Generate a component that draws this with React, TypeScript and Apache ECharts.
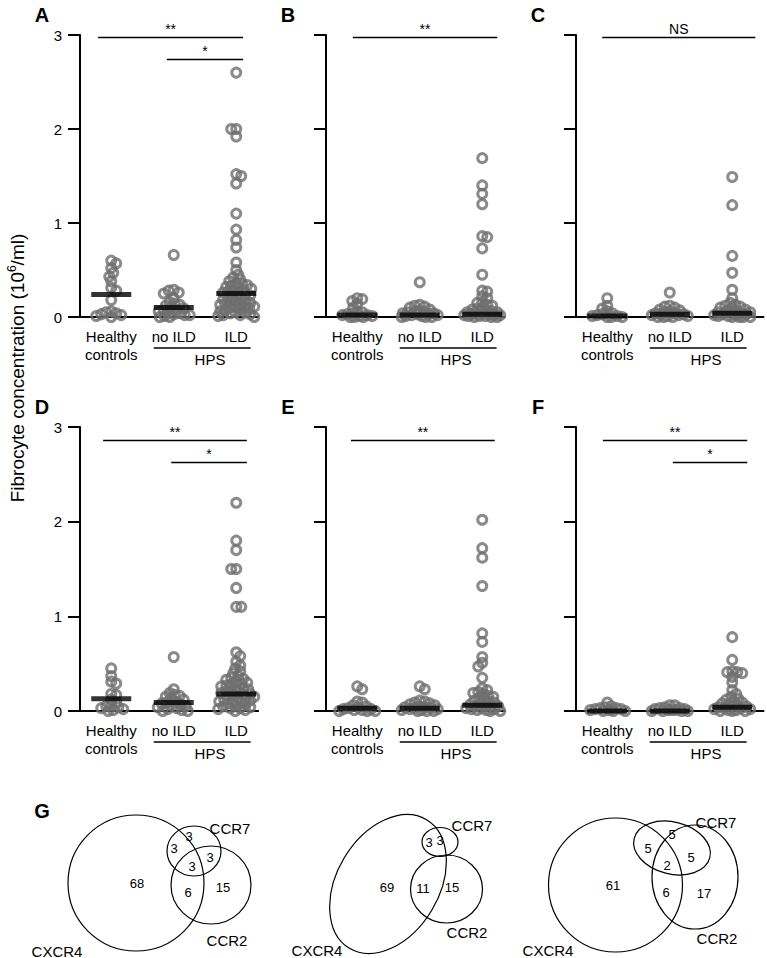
import React, { useEffect, useRef } from 'react';
import * as echarts from 'echarts';

// ---------- data ----------
const groupLabels = ['Healthy\ncontrols', 'no ILD', 'ILD'];
const hpsLabel = 'HPS';
const panelLetters = ['A', 'B', 'C', 'D', 'E', 'F'];
const yAxisTitle = 'Fibrocyte concentration (10{s|6}/ml)';

const aHealthy = [0.60, 0.57, 0.52, 0.47, 0.43, 0.38, 0.31, 0.28, 0.18, 0.06, 0.05, 0.04, 0.03, 0.02, 0.01, 0.0];
const aNoILD = [0.66, 0.29, 0.28, 0.26, 0.25, 0.20, 0.16, 0.14, 0.13, 0.12, 0.10, 0.09, 0.08, 0.07, 0.06, 0.05, 0.04, 0.03, 0.02, 0.02, 0.01, 0.0, 0.0];
const aILD = [2.60, 2.00, 2.00, 1.92, 1.52, 1.50, 1.42, 1.10, 0.93, 0.82, 0.74, 0.58, 0.50, 0.45, 0.42, 0.40, 0.38, 0.36, 0.35, 0.34, 0.33, 0.32, 0.31, 0.30, 0.29, 0.28, 0.27, 0.26, 0.25, 0.24, 0.23, 0.22, 0.21, 0.20, 0.19, 0.18, 0.17, 0.16, 0.15, 0.14, 0.14, 0.13, 0.12, 0.11, 0.11, 0.10, 0.09, 0.08, 0.07, 0.06, 0.05, 0.05, 0.04, 0.03, 0.02, 0.02, 0.01, 0.0];
const aMeans = [0.24, 0.10, 0.25];

const bHealthy = [0.20, 0.19, 0.17, 0.14, 0.10, 0.06, 0.05, 0.04, 0.03, 0.02, 0.02, 0.01, 0.01, 0.0, 0.0, 0.0];
const bNoILD = [0.37, 0.13, 0.12, 0.11, 0.10, 0.08, 0.07, 0.06, 0.05, 0.05, 0.04, 0.04, 0.03, 0.03, 0.02, 0.02, 0.01, 0.01, 0.0, 0.0, 0.0];
const bILD = [1.69, 1.40, 1.31, 1.20, 0.86, 0.85, 0.73, 0.45, 0.28, 0.27, 0.22, 0.20, 0.16, 0.15, 0.13, 0.12, 0.10, 0.09, 0.08, 0.07, 0.06, 0.05, 0.05, 0.04, 0.04, 0.03, 0.03, 0.02, 0.02, 0.02, 0.01, 0.01, 0.01, 0.0, 0.0, 0.0];
const bMeans = [0.02, 0.02, 0.03];

const cHealthy = [0.20, 0.12, 0.09, 0.06, 0.04, 0.03, 0.02, 0.01, 0.01, 0.0, 0.0, 0.0];
const cNoILD = [0.26, 0.12, 0.11, 0.10, 0.08, 0.07, 0.06, 0.05, 0.04, 0.04, 0.03, 0.03, 0.02, 0.02, 0.01, 0.01, 0.0, 0.0, 0.0];
const cILD = [1.49, 1.19, 0.65, 0.47, 0.29, 0.20, 0.15, 0.13, 0.12, 0.11, 0.10, 0.09, 0.08, 0.07, 0.06, 0.05, 0.05, 0.04, 0.04, 0.03, 0.03, 0.02, 0.02, 0.01, 0.01, 0.0, 0.0, 0.0, 0.0];
const cMeans = [0.01, 0.03, 0.04];

const dHealthy = [0.45, 0.37, 0.31, 0.29, 0.18, 0.17, 0.12, 0.09, 0.06, 0.05, 0.04, 0.03, 0.02, 0.01, 0.0];
const dNoILD = [0.57, 0.23, 0.19, 0.17, 0.16, 0.15, 0.13, 0.12, 0.10, 0.09, 0.08, 0.07, 0.06, 0.05, 0.04, 0.03, 0.02, 0.01, 0.0, 0.0];
const dILD = [2.20, 1.80, 1.70, 1.50, 1.50, 1.30, 1.10, 1.10, 0.62, 0.58, 0.52, 0.48, 0.45, 0.42, 0.40, 0.37, 0.35, 0.34, 0.33, 0.31, 0.30, 0.29, 0.28, 0.27, 0.26, 0.25, 0.24, 0.23, 0.22, 0.21, 0.20, 0.19, 0.18, 0.18, 0.17, 0.16, 0.15, 0.14, 0.13, 0.12, 0.11, 0.11, 0.10, 0.09, 0.08, 0.07, 0.06, 0.05, 0.04, 0.03, 0.03, 0.02, 0.01, 0.0];
const dMeans = [0.13, 0.09, 0.18];

const eHealthy = [0.26, 0.23, 0.10, 0.09, 0.06, 0.05, 0.04, 0.03, 0.02, 0.02, 0.01, 0.01, 0.0, 0.0, 0.0];
const eNoILD = [0.26, 0.23, 0.11, 0.10, 0.09, 0.08, 0.07, 0.06, 0.05, 0.04, 0.04, 0.03, 0.03, 0.02, 0.02, 0.01, 0.01, 0.0, 0.0, 0.0];
const eILD = [2.02, 1.72, 1.62, 1.32, 0.82, 0.73, 0.57, 0.51, 0.47, 0.35, 0.24, 0.22, 0.20, 0.19, 0.18, 0.16, 0.15, 0.14, 0.12, 0.11, 0.10, 0.09, 0.08, 0.07, 0.06, 0.05, 0.05, 0.04, 0.03, 0.03, 0.02, 0.02, 0.01, 0.01, 0.0, 0.0];
const eMeans = [0.03, 0.03, 0.06];

const fHealthy = [0.09, 0.05, 0.04, 0.03, 0.03, 0.02, 0.02, 0.01, 0.01, 0.0, 0.0, 0.0];
const fNoILD = [0.06, 0.06, 0.04, 0.03, 0.03, 0.02, 0.02, 0.01, 0.01, 0.01, 0.0, 0.0, 0.0, 0.0];
const fILD = [0.78, 0.54, 0.42, 0.41, 0.41, 0.40, 0.36, 0.30, 0.22, 0.18, 0.15, 0.13, 0.12, 0.10, 0.09, 0.08, 0.07, 0.06, 0.05, 0.04, 0.04, 0.03, 0.03, 0.02, 0.02, 0.01, 0.01, 0.0, 0.0, 0.0];
const fMeans = [0.0, 0.0, 0.04];

// significance brackets (x in group units, y in 10^6/ml)
const sigA = [{ label: '**', from: 0.79, to: 3.11, y: 2.98 }, { label: '*', from: 1.89, to: 3.11, y: 2.74 }];
const sigB = [{ label: '**', from: 0.93, to: 3.24, y: 2.98 }];
const sigC = [{ label: 'NS', from: 0.92, to: 3.37, y: 2.98 }];
const sigD = [{ label: '**', from: 0.87, to: 3.17, y: 2.86 }, { label: '*', from: 1.96, to: 3.17, y: 2.63 }];
const sigE = [{ label: '**', from: 0.90, to: 3.20, y: 2.86 }];
const sigF = [{ label: '**', from: 0.93, to: 3.24, y: 2.86 }, { label: '*', from: 2.05, to: 3.24, y: 2.63 }];

// Venn diagrams (G)
const vennSets = ['CXCR4', 'CCR7', 'CCR2'];
const venn1Counts = [68, 3, 3, 3, 3, 6, 15];
const venn2Counts = [69, 3, 3, 11, 15];
const venn3Counts = [61, 5, 5, 2, 5, 6, 17];

// ---------- layout ----------
const colLeft = [80, 326, 576];
const rowTop = [35, 427];
const rowHeight = [282, 284];
const xMaxs = [3.35, 3.36, 3.5];
const PX_X = 62.5;
const FONT = 'Liberation Sans, Arial, Helvetica, sans-serif';
const RING = '#6e6e6e';

const venn1Shapes = [
  { cx: 136, cy: 883, rx: 68, ry: 68, rot: 0 },
  { cx: 194, cy: 851, rx: 27, ry: 25, rot: 0 },
  { cx: 211, cy: 885, rx: 40, ry: 39, rot: 0 },
];
const venn1CountPos = [[137, 883], [189, 836], [174, 848], [192, 866], [210, 857], [188, 892], [223, 887]];
const venn1LabelPos = [[57, 951], [230, 828], [227, 940]];

const venn2Shapes = [
  { cx: 388, cy: 884, rx: 51, ry: 75, rot: -0.54 },
  { cx: 440, cy: 842, rx: 18, ry: 14.5, rot: 0 },
  { cx: 446.5, cy: 889, rx: 36, ry: 34, rot: 0 },
];
const venn2CountPos = [[387, 887], [429, 842], [440, 840], [423, 888], [452, 887]];
const venn2LabelPos = [[317, 950], [472, 825], [467, 932]];

const venn3Shapes = [
  { cx: 615.5, cy: 885, rx: 67, ry: 67, rot: 0 },
  { cx: 672, cy: 848, rx: 39, ry: 26, rot: -0.25 },
  { cx: 695, cy: 877, rx: 43, ry: 52, rot: 0 },
];
const venn3CountPos = [[613, 885], [672, 834], [648, 848], [667, 865], [691, 857], [666, 892], [704, 893]];
const venn3LabelPos = [[548, 950], [716, 822], [717, 938]];

// deterministic beeswarm layout (pixel space)
function swarm(values: number[], pxPerY: number, d: number, maxHalf: number): number[] {
  const order = values.map((_, i) => i).sort((a, b) => values[b] - values[a]);
  const placed: { x: number; y: number }[] = [];
  const out = new Array(values.length).fill(0);
  const cands: number[] = [0];
  for (let s = 1; s <= maxHalf; s += 1) cands.push(-s, s);
  let flip = 1;
  for (const i of order) {
    const y = values[i] * pxPerY;
    let best = 0;
    let bestScore = -Infinity;
    for (const c0 of cands) {
      const c = c0 * flip;
      let minD = Infinity;
      for (const p of placed) {
        const dd = Math.hypot(p.x - c, p.y - y);
        if (dd < minD) minD = dd;
      }
      if (minD >= d) { best = c; bestScore = Infinity; break; }
      if (minD > bestScore) { bestScore = minD; best = c; }
    }
    flip = -flip;
    placed.push({ x: best, y });
    out[i] = best;
  }
  return out;
}

const panels = [
  { groups: [aHealthy, aNoILD, aILD], means: aMeans, sig: sigA },
  { groups: [bHealthy, bNoILD, bILD], means: bMeans, sig: sigB },
  { groups: [cHealthy, cNoILD, cILD], means: cMeans, sig: sigC },
  { groups: [dHealthy, dNoILD, dILD], means: dMeans, sig: sigD },
  { groups: [eHealthy, eNoILD, eILD], means: eMeans, sig: sigE },
  { groups: [fHealthy, fNoILD, fILD], means: fMeans, sig: sigF },
];

function buildOption() {
  const grid: any[] = [];
  const xAxis: any[] = [];
  const yAxis: any[] = [];
  const series: any[] = [];
  const graphic: any[] = [];

  panels.forEach((p, i) => {
    const col = i % 3;
    const row = Math.floor(i / 3);
    const xMax = xMaxs[col];
    const left = colLeft[col];
    const top = rowTop[row];
    const h = rowHeight[row];
    grid.push({ left, top, width: (xMax - 0.5) * PX_X, height: h, containLabel: false, outerBoundsMode: 'none' });
    xAxis.push({
      type: 'value', gridIndex: i, min: 0.5, max: xMax, interval: 0.5,
      axisLine: { show: true, onZero: false, lineStyle: { color: '#000', width: 2 } },
      axisTick: { show: false }, splitLine: { show: false },
      axisLabel: {
        show: true, fontSize: 15, color: '#000', lineHeight: 18, margin: 10, fontFamily: FONT,
        showMaxLabel: false,
        formatter: (v: number) => {
          const k = Math.round(v);
          return Math.abs(v - k) < 1e-6 && k >= 1 && k <= 3 ? groupLabels[k - 1] : '';
        },
      },
    });
    yAxis.push({
      type: 'value', gridIndex: i, min: 0, max: 3, interval: 1,
      axisLine: { show: true, lineStyle: { color: '#000', width: 2 } },
      axisTick: { show: true, length: 12, lineStyle: { color: '#000', width: 2 } },
      axisLabel: { show: col === 0, fontSize: 15, color: '#000', margin: 18, fontFamily: FONT },
      splitLine: { show: false },
    });
    const pts: number[][] = [];
    p.groups.forEach((vals, g) => {
      const offs = swarm(vals, h / 3, 5, 18);
      vals.forEach((v, k) => pts.push([g + 1 + offs[k] / PX_X, v]));
    });
    series.push({
      type: 'scatter', xAxisIndex: i, yAxisIndex: i, data: pts, symbol: 'circle', symbolSize: 9,
      itemStyle: { color: 'rgba(0,0,0,0)', borderColor: RING, borderWidth: 3 },
      clip: false, z: 2, silent: true,
    });
    series.push({
      type: 'scatter', xAxisIndex: i, yAxisIndex: i,
      data: p.means.map((m, g) => [g + 1, m]),
      symbol: 'rect', symbolSize: [40, 5], itemStyle: { color: '#000' }, clip: false, z: 3, silent: true,
      markLine: {
        silent: true, symbol: ['none', 'none'], animation: false,
        lineStyle: { color: '#000', width: 1.3, type: 'solid' },
        label: { show: true, position: 'middle', formatter: '{b}', fontSize: 14, color: '#000', distance: 1, fontFamily: FONT },
        emphasis: { disabled: true },
        data: p.sig.map((s) => [{ coord: [s.from, s.y], name: s.label }, { coord: [s.to, s.y] }]),
      },
    });
    // HPS grouping line and label
    const zeroY = top + h;
    const px = (v: number) => left + (v - 0.5) * PX_X;
    graphic.push({ type: 'line', shape: { x1: px(1.68), y1: zeroY + 31, x2: px(3.23), y2: zeroY + 31 }, style: { stroke: '#000', lineWidth: 1.3 } });
    graphic.push({ type: 'text', x: px(2.58), y: zeroY + 42, style: { text: hpsLabel, fontSize: 15, fontFamily: FONT, fill: '#000', textAlign: 'center', textVerticalAlign: 'middle' } });
    graphic.push({ type: 'text', x: left - 38, y: top - 20, style: { text: panelLetters[i], fontSize: 20, fontWeight: 'bold', fontFamily: FONT, fill: '#000', textAlign: 'center', textVerticalAlign: 'middle' } });
  });

  graphic.push({ type: 'text', x: 42, y: 811, style: { text: 'G', fontSize: 20, fontWeight: 'bold', fontFamily: FONT, fill: '#000', textAlign: 'center', textVerticalAlign: 'middle' } });
  graphic.push({
    type: 'text', x: 17, y: 368, rotation: Math.PI / 2,
    style: {
      text: yAxisTitle, fontSize: 19, fontFamily: FONT, fill: '#000', textAlign: 'center', textVerticalAlign: 'middle',
      rich: { s: { fontSize: 12, fontFamily: FONT, fill: '#000', padding: [0, 0, 10, 0] } },
    },
  });

  const venns = [
    { shapes: venn1Shapes, counts: venn1Counts, countPos: venn1CountPos, labelPos: venn1LabelPos },
    { shapes: venn2Shapes, counts: venn2Counts, countPos: venn2CountPos, labelPos: venn2LabelPos },
    { shapes: venn3Shapes, counts: venn3Counts, countPos: venn3CountPos, labelPos: venn3LabelPos },
  ];
  venns.forEach((v) => {
    v.shapes.forEach((s) => {
      graphic.push({ type: 'ellipse', x: s.cx, y: s.cy, rotation: s.rot, shape: { cx: 0, cy: 0, rx: s.rx, ry: s.ry }, style: { fill: 'none', stroke: '#000', lineWidth: 1.2 } });
    });
    v.counts.forEach((c, k) => {
      graphic.push({ type: 'text', x: v.countPos[k][0], y: v.countPos[k][1], style: { text: String(c), fontSize: 13, fontFamily: FONT, fill: '#000', textAlign: 'center', textVerticalAlign: 'middle' } });
    });
    vennSets.forEach((name, k) => {
      graphic.push({ type: 'text', x: v.labelPos[k][0], y: v.labelPos[k][1], style: { text: name, fontSize: 15, fontFamily: FONT, fill: '#000', textAlign: 'center', textVerticalAlign: 'middle' } });
    });
  });

  return {
    animation: false,
    backgroundColor: '#fff',
    textStyle: { fontFamily: FONT },
    grid, xAxis, yAxis, series, graphic,
  };
}

export default function App() {
  const ref = useRef<HTMLDivElement>(null);
  useEffect(() => {
    if (!ref.current) return;
    const chart = echarts.init(ref.current, undefined, { renderer: 'svg' });
    chart.setOption(buildOption() as any);
    return () => chart.dispose();
  }, []);
  return <div ref={ref} style={{ position: 'absolute', left: 0, top: 0, width: 767, height: 958 }} />;
}
